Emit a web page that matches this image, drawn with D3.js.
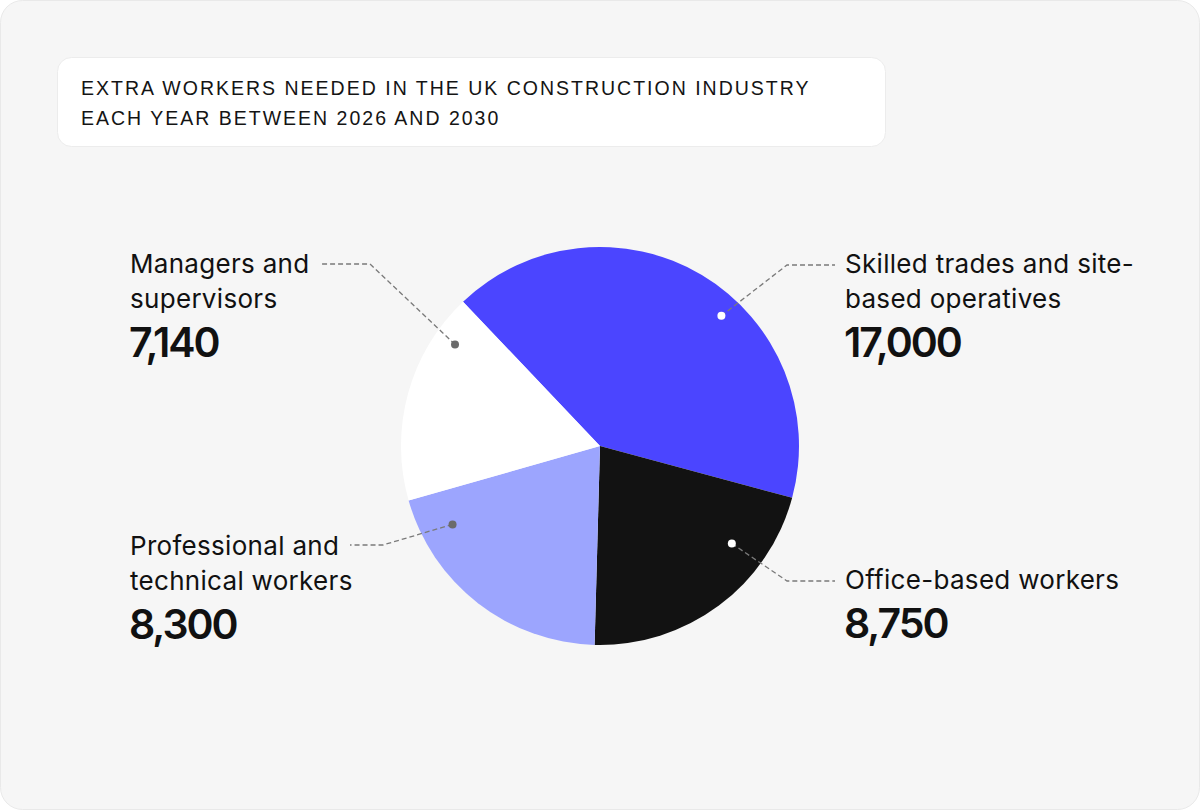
<!DOCTYPE html>
<html>
<head>
<meta charset="utf-8">
<script src="https://cdn.jsdelivr.net/npm/d3@7"></script>
<style>
  html, body { margin: 0; padding: 0; background: #ffffff; }
  svg { display: block; }
</style>
</head>
<body>
<svg id="chart" width="1200" height="810"></svg>
<script>
// ---- data ----
const titleLines = ["EXTRA WORKERS NEEDED IN THE UK CONSTRUCTION INDUSTRY", "EACH YEAR BETWEEN 2026 AND 2030"];
const categories = ["Skilled trades and site-based operatives", "Office-based workers", "Professional and technical workers", "Managers and supervisors"];
const labelLines = [["Skilled trades and site-", "based operatives"], ["Office-based workers"], ["Professional and", "technical workers"], ["Managers and", "supervisors"]];
const values = [17000, 8750, 8300, 7140];
const colors = ["#4b45ff", "#121212", "#9ca5fe", "#ffffff"];
const dotColors = ["#ffffff", "#ffffff", "#6b6b6b", "#6b6b6b"];

// ---- layout ----
const W = 1200, H = 810;
const cx = 600, cy = 446, R = 199;
const startDeg = -43.5;
const svg = d3.select("#chart");

// card background
svg.append("rect").attr("x", 0.5).attr("y", 0.5).attr("width", W - 1).attr("height", H - 1)
  .attr("rx", 22).attr("fill", "#f6f6f6").attr("stroke", "#e9e9e9");

// title box
svg.append("rect").attr("x", 57.5).attr("y", 57.5).attr("width", 828).attr("height", 89)
  .attr("rx", 14).attr("fill", "#ffffff").attr("stroke", "#ececec");
svg.append("g").selectAll("text").data(titleLines).join("text")
  .attr("x", 81).attr("y", (d, i) => 95 + i * 30)
  .attr("font-family", "'Liberation Sans', Arial, sans-serif")
  .attr("font-size", 19.5).attr("letter-spacing", 2.0).attr("fill", "#141414")
  .text(d => d);

// pie
const pie = d3.pie().sort(null).value(d => d)
  .startAngle(startDeg * Math.PI / 180)
  .endAngle(startDeg * Math.PI / 180 + 2 * Math.PI);
const arcs = pie(values);
const arc = d3.arc().innerRadius(0).outerRadius(R);
const g = svg.append("g").attr("transform", `translate(${cx},${cy})`);
g.selectAll("path").data(arcs).join("path")
  .attr("d", arc).attr("fill", (d, i) => colors[i]);

// label anchors (layout): dot angle/radius within slice, elbow, label position
const anchors = [
  { a: 43,   r: 178, elbow: [787, 265], end: 835, lx: 845, ly: 273 },
  { a: 126.5, r: 164, elbow: [787, 581], end: 835, lx: 845, ly: 589 },
  { a: 242,  r: 167, elbow: [383, 545], end: 350, lx: 130, ly: 555 },
  { a: 305,  r: 177, elbow: [370, 264], end: 322, lx: 130, ly: 273 }
];

const labelG = svg.append("g");
arcs.forEach((d, i) => {
  const an = anchors[i];
  const rad = an.a * Math.PI / 180;
  const dx = cx + an.r * Math.sin(rad), dy = cy - an.r * Math.cos(rad);
  const line = d3.line();
  labelG.append("path")
    .attr("d", line([[dx, dy], an.elbow, [an.end, an.elbow[1]]]))
    .attr("fill", "none").attr("stroke", "#7a7a7a").attr("stroke-width", 1.3)
    .attr("stroke-dasharray", "5,3");
  labelG.append("circle").attr("cx", dx).attr("cy", dy).attr("r", 4)
    .attr("fill", dotColors[i]);
  const lines = labelLines[i];
  lines.forEach((t, k) => {
    labelG.append("text").attr("x", an.lx).attr("y", an.ly + k * 35)
      .attr("font-family", "Inter, 'Noto Sans', sans-serif")
      .attr("font-size", 26).attr("fill", "#111").attr("letter-spacing", 0.3)
      .text(t);
  });
  labelG.append("text").attr("x", an.lx - 1).attr("y", an.ly + (lines.length - 1) * 35 + 49)
    .attr("font-family", "Inter, 'Noto Sans', sans-serif")
    .attr("font-size", 41).attr("font-weight", 600).attr("fill", "#111").attr("letter-spacing", -2)
    .text(d3.format(",")(values[i]));
});
</script>
</body>
</html>
